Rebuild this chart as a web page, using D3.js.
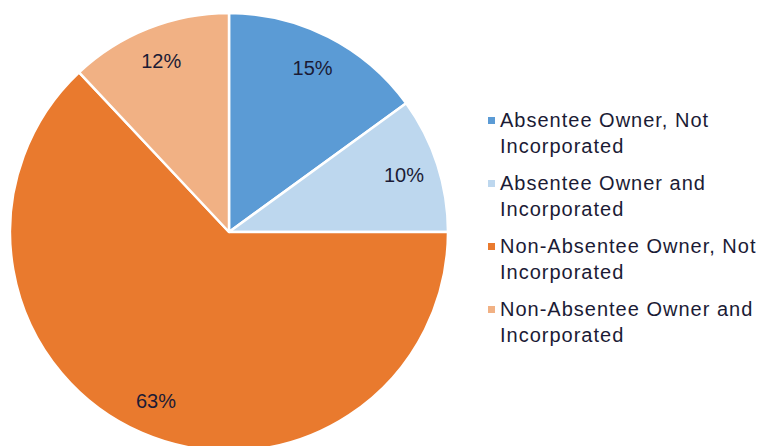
<!DOCTYPE html>
<html>
<head>
<meta charset="utf-8">
<script src="https://cdn.jsdelivr.net/npm/d3@7"></script>
<style>
  body { margin: 0; background: #fff; }
  svg { display: block; font-family: "Liberation Sans", Arial, sans-serif; }
</style>
</head>
<body>
<div id="chart"></div>
<script>
// data
const categories = [
  'Absentee Owner, Not Incorporated',
  'Absentee Owner and Incorporated',
  'Non-Absentee Owner, Not Incorporated',
  'Non-Absentee Owner and Incorporated'
];
const legendLines = [
  ['Absentee Owner, Not', 'Incorporated'],
  ['Absentee Owner and', 'Incorporated'],
  ['Non-Absentee Owner, Not', 'Incorporated'],
  ['Non-Absentee Owner and', 'Incorporated']
];
const values = [15, 10, 63, 12];
const colors = ['#5B9BD5', '#BDD7EE', '#E97A2E', '#F1B184'];

const width = 762;
const height = 446;
const cx = 229;
const cy = 232;
const radius = 219;

const svg = d3.select('#chart').append('svg')
  .attr('width', width)
  .attr('height', height);

const data = categories.map(function (c, i) {
  return { name: c, value: values[i], color: colors[i], lines: legendLines[i] };
});

const pie = d3.pie().sort(null).value(function (d) { return d.value; });
const arc = d3.arc().innerRadius(0).outerRadius(radius);
const labelArc = d3.arc().innerRadius(184).outerRadius(184);

const g = svg.append('g').attr('transform', 'translate(' + cx + ',' + cy + ')');

const arcs = pie(data);

g.selectAll('path')
  .data(arcs)
  .enter()
  .append('path')
  .attr('d', arc)
  .attr('fill', function (d) { return d.data.color; })
  .attr('stroke', '#fff')
  .attr('stroke-width', 2.5)
  .attr('stroke-linejoin', 'round');

g.selectAll('text.pct')
  .data(arcs)
  .enter()
  .append('text')
  .attr('class', 'pct')
  .attr('transform', function (d) { return 'translate(' + labelArc.centroid(d) + ')'; })
  .attr('text-anchor', 'middle')
  .attr('dy', '0.35em')
  .attr('font-size', 20)
  .attr('fill', '#1b1b35')
  .text(function (d) { return d.data.value + '%'; });

// legend
const legendY = d3.scalePoint()
  .domain(categories)
  .range([120, 309]);

const legend = svg.append('g').attr('class', 'legend');

const item = legend.selectAll('g')
  .data(data)
  .enter()
  .append('g')
  .attr('transform', function (d) { return 'translate(488,' + legendY(d.name) + ')'; });

item.append('rect')
  .attr('x', 0)
  .attr('y', -3)
  .attr('width', 7)
  .attr('height', 7)
  .attr('fill', function (d) { return d.color; });

item.append('text')
  .attr('x', 12)
  .attr('font-size', 20)
  .attr('letter-spacing', 1)
  .attr('fill', '#1b1b35')
  .selectAll('tspan')
  .data(function (d) { return d.lines; })
  .enter()
  .append('tspan')
  .attr('x', 12)
  .attr('y', function (d, i) { return i * 26; })
  .attr('dy', '0.35em')
  .text(function (d) { return d; });
</script>
</body>
</html>
